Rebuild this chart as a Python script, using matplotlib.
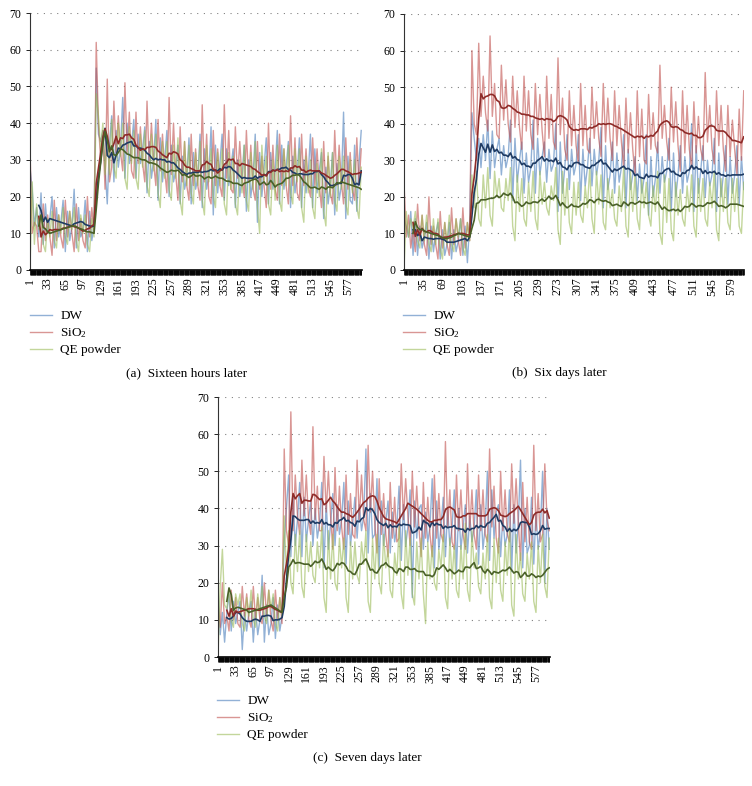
import numpy as np
import pandas as pd
import matplotlib
matplotlib.use('Agg')
import matplotlib.pyplot as plt

# readings taken off the chart, one value per 4 samples (sample 1, 5, 9, ...)
STEP = 4
WINDOW = 5  # moving average over 5 stored values = 20 samples

# (a) sixteen hours later
a_dw = [28, 22, 12, 17, 9, 21, 7, 18, 10, 14, 20, 6, 17, 9, 13, 19, 5, 16, 8, 12,
        22, 6, 17, 9, 11, 19, 5, 16, 8, 12,
        55, 37, 35, 38, 28, 18, 34,
        42, 24, 38, 28, 33, 47, 25, 40, 29, 34, 41, 25, 37, 29, 33, 39, 21, 35, 25, 30,
        41, 19, 36, 24, 30, 38, 20, 34, 24, 27, 34, 18, 31, 22, 25, 36, 18, 32, 22, 25,
        37, 17, 33, 22, 26, 39, 15, 34, 21, 29, 37, 19, 33, 23, 28, 33, 17, 30, 20, 25,
        34, 16, 30, 20, 25, 37, 13, 32, 20, 28, 36, 18, 32, 22, 27, 38, 18, 34, 22, 28,
        35, 17, 31, 21, 26, 36, 17, 30, 21, 26, 37, 17, 33, 21, 27, 32, 14, 28, 18, 23,
        32, 15, 29, 19, 23, 43, 14, 31, 19, 18, 34, 16, 29, 38]
a_sio2 = [33, 10, 13, 12, 5, 5, 18, 8, 15, 9, 4, 19, 8, 15, 9, 6, 19, 9, 16, 10,
          5, 18, 8, 14, 8, 6, 20, 9, 17, 10,
          62, 40, 30, 38, 22, 52, 24,
          28, 46, 32, 42, 32, 27, 51, 32, 43, 27, 25, 43, 29, 39, 29, 24, 46, 29, 40, 29,
          23, 41, 27, 37, 27, 21, 47, 26, 40, 26, 19, 39, 24, 35, 23, 19, 37, 23, 33, 23,
          19, 45, 24, 37, 20, 18, 38, 23, 33, 23, 20, 45, 25, 38, 22, 21, 39, 25, 35, 25,
          20, 38, 24, 34, 22, 19, 35, 22, 31, 23, 17, 40, 22, 34, 22, 19, 37, 23, 33, 23,
          18, 42, 23, 36, 21, 19, 37, 23, 33, 23, 20, 36, 23, 33, 23, 17, 35, 21, 31, 21,
          18, 38, 23, 34, 24, 18, 36, 22, 32, 22, 19, 36, 23, 33]
a_qe = [0, 24, 7, 18, 11, 15, 7, 5, 14, 9, 16, 8, 6, 15, 10, 17, 9, 7, 16, 11,
        17, 8, 5, 15, 10, 15, 7, 5, 14, 9,
        48, 42, 33, 40, 26, 36, 26,
        41, 28, 25, 40, 31, 40, 25, 22, 39, 29, 38, 25, 22, 37, 28, 38, 23, 20, 37, 27,
        37, 21, 17, 35, 25, 35, 22, 19, 34, 25, 36, 19, 15, 35, 23, 34, 21, 18, 32, 23,
        35, 19, 15, 34, 24, 33, 20, 17, 32, 23, 33, 18, 15, 32, 22, 31, 18, 15, 30, 21,
        34, 19, 16, 32, 22, 35, 17, 10, 34, 24, 31, 18, 15, 30, 19, 34, 19, 16, 33, 23,
        34, 21, 18, 33, 24, 33, 17, 13, 31, 21, 30, 17, 14, 29, 20, 33, 16, 12, 32, 20,
        32, 19, 16, 31, 22, 31, 18, 15, 30, 21, 30, 17, 14, 28]

# (b) six days later
b_dw = [14, 12, 9, 16, 4, 14, 4, 12, 6, 9, 13, 3, 12, 5, 10, 13, 3, 11, 4, 7,
        13, 3, 11, 5, 8, 14, 4, 12, 2, 13,
        43, 36, 30, 36, 28, 37, 30,
        41, 25, 38, 28, 33, 36, 26, 34, 28, 31, 41, 19, 36, 24, 30, 35, 21, 32, 24, 28,
        41, 21, 36, 26, 31, 35, 24, 33, 27, 29, 40, 16, 35, 21, 28, 37, 22, 33, 26, 29,
        37, 19, 33, 23, 28, 36, 23, 33, 26, 30, 39, 17, 34, 22, 26, 35, 21, 32, 24, 28,
        37, 17, 33, 22, 26, 31, 19, 29, 21, 25, 37, 15, 31, 20, 25, 35, 21, 31, 24, 27,
        36, 16, 32, 20, 26, 34, 21, 31, 24, 27, 40, 16, 34, 21, 27, 34, 20, 30, 23, 26,
        36, 16, 32, 20, 26, 34, 18, 31, 21, 26, 34, 18, 31, 22]
b_sio2 = [24, 9, 15, 6, 11, 5, 18, 8, 15, 7, 4, 20, 7, 12, 7, 3, 16, 6, 13, 7,
          4, 17, 7, 14, 8, 4, 17, 6, 13, 8,
          60, 40, 37, 62, 42, 53, 43,
          38, 64, 42, 51, 37, 36, 56, 41, 52, 40, 35, 53, 39, 49, 39, 33, 53, 38, 49, 37,
          33, 51, 37, 48, 38, 31, 53, 36, 48, 35, 33, 58, 37, 47, 33, 30, 49, 34, 45, 34,
          29, 51, 34, 45, 33, 32, 50, 36, 46, 36, 31, 51, 35, 47, 36, 30, 49, 34, 45, 35,
          28, 47, 32, 43, 33, 26, 49, 31, 44, 30, 29, 48, 33, 43, 34, 32, 56, 36, 45, 35,
          30, 50, 35, 46, 34, 27, 49, 32, 45, 33, 28, 46, 32, 42, 33, 30, 54, 35, 45, 33,
          29, 49, 34, 45, 33, 27, 45, 31, 41, 33, 26, 44, 30, 49]
b_qe = [0, 16, 9, 14, 11, 16, 8, 6, 15, 8, 15, 7, 5, 14, 7, 14, 6, 3, 13, 7,
        15, 7, 5, 14, 9, 14, 6, 4, 13, 8,
        26, 17, 27, 14, 12, 26, 17,
        28, 15, 12, 27, 20, 25, 17, 16, 25, 19, 28, 12, 8, 26, 16, 25, 14, 12, 24, 16,
        27, 14, 11, 27, 18, 24, 17, 15, 23, 19, 28, 11, 7, 27, 15, 25, 13, 10, 24, 15,
        24, 15, 13, 23, 17, 28, 14, 10, 27, 18, 26, 13, 11, 25, 17, 22, 14, 12, 23, 16,
        28, 12, 9, 27, 16, 26, 14, 11, 25, 17, 24, 15, 12, 23, 16, 27, 10, 7, 26, 13,
        25, 11, 8, 24, 15, 22, 14, 12, 23, 16, 26, 12, 9, 25, 16, 25, 14, 12, 24, 17,
        27, 11, 8, 25, 16, 25, 13, 11, 25, 16, 25, 12, 10, 24]

# (c) seven days later
c_dw = [19, 6, 12, 4, 12, 17, 7, 15, 9, 12, 15, 2, 12, 7, 12, 15, 4, 13, 6, 10,
        22, 4, 14, 6, 9, 16, 5, 14, 7, 11,
        31, 40, 49, 27, 43, 30, 37,
        47, 27, 43, 31, 37, 42, 30, 40, 32, 36, 47, 24, 42, 29, 36, 44, 30, 41, 33, 37,
        47, 25, 42, 30, 36, 43, 32, 41, 34, 38, 56, 28, 44, 32, 33, 48, 24, 42, 30, 36,
        42, 28, 39, 31, 35, 46, 26, 41, 30, 35, 45, 16, 42, 32, 40, 41, 29, 39, 31, 35,
        48, 24, 42, 29, 35, 43, 27, 40, 30, 35, 45, 23, 40, 29, 35, 41, 28, 38, 31, 35,
        45, 25, 41, 29, 35, 50, 26, 45, 32, 39, 41, 27, 38, 30, 33, 45, 23, 41, 28, 36,
        53, 24, 40, 28, 30, 43, 25, 39, 29, 34, 50, 20, 40, 29]
c_sio2 = [15, 8, 20, 9, 11, 7, 18, 10, 16, 9, 8, 19, 11, 17, 10, 8, 19, 10, 16, 10,
          9, 20, 11, 18, 10, 7, 18, 10, 16, 9,
          56, 34, 30, 66, 34, 49, 38,
          33, 53, 38, 49, 37, 33, 62, 37, 46, 34, 34, 54, 39, 50, 38, 29, 51, 34, 46, 35,
          29, 49, 33, 44, 33, 32, 53, 37, 49, 37, 34, 57, 39, 50, 36, 28, 48, 33, 44, 33,
          27, 47, 32, 43, 31, 32, 52, 37, 48, 38, 30, 50, 35, 46, 35, 27, 47, 32, 43, 33,
          27, 49, 32, 44, 33, 31, 58, 35, 45, 31, 29, 49, 34, 45, 33, 29, 52, 34, 45, 33,
          29, 49, 34, 45, 33, 31, 56, 35, 46, 32, 28, 50, 34, 45, 33, 31, 52, 36, 48, 36,
          26, 47, 31, 43, 31, 29, 57, 34, 44, 31, 33, 52, 37, 34]
c_qe = [0, 19, 29, 14, 13, 18, 10, 8, 17, 14, 17, 9, 7, 16, 11, 18, 10, 8, 17, 12,
        19, 11, 9, 18, 13, 17, 9, 7, 16, 11,
        38, 22, 34, 20, 17, 33, 23,
        34, 19, 16, 33, 23, 31, 22, 20, 31, 24, 35, 16, 12, 34, 21, 33, 20, 18, 32, 24,
        32, 16, 12, 31, 21, 31, 22, 20, 31, 25, 34, 15, 12, 32, 21, 33, 20, 17, 33, 24,
        29, 18, 16, 28, 22, 35, 17, 13, 34, 22, 32, 17, 14, 31, 21, 32, 17, 9, 31, 21,
        30, 20, 18, 29, 24, 33, 16, 13, 32, 21, 30, 18, 16, 30, 21, 36, 18, 15, 34, 24,
        28, 19, 17, 28, 21, 33, 16, 13, 32, 20, 32, 18, 15, 31, 22, 35, 14, 11, 33, 21,
        28, 17, 15, 28, 21, 31, 15, 12, 30, 20, 33, 19, 16, 32]

labels = ['DW', 'SiO$_2$', 'QE powder']
raw_colors = ['#4a7ebb', '#c0504d', '#9bbb59']
trend_colors = ['#1f3b63', '#8e2b28', '#4a6128']

ticks_a = list(range(1, 600, 32))
ticks_b = list(range(1, 600, 34))
ticks_c = list(range(1, 600, 32))
captions = ['(a)  Sixteen hours later', '(b)  Six days later', '(c)  Seven days later']

plt.rcParams['font.family'] = 'Liberation Serif'
plt.rcParams['mathtext.fontset'] = 'custom'
plt.rcParams['mathtext.rm'] = 'Liberation Serif'
plt.rcParams['mathtext.it'] = 'Liberation Serif:italic'

W, H = 752, 786
fig = plt.figure(figsize=(W / 100, H / 100), dpi=100)


def px_axes(left, right, top, bottom):
    return fig.add_axes([left / W, 1 - bottom / H, (right - left) / W, (bottom - top) / H])


def draw_panel(ax, series, ticks):
    raw = []
    for s, c in zip(series, raw_colors):
        x = 1 + STEP * np.arange(len(s))
        ln, = ax.plot(x, s, color=c, lw=1.0, alpha=0.6)
        raw.append(ln)
    for s, c in zip(series, trend_colors):
        x = 1 + STEP * np.arange(len(s))
        ma = pd.Series(s, dtype=float).rolling(WINDOW).mean()
        ax.plot(x, ma, color=c, lw=1.2)
    ax.set_xlim(0.5, 601.5)
    ax.set_ylim(0, 70)
    ax.set_yticks(range(0, 71, 10))
    ax.set_xticks(ticks)
    ax.set_xticklabels([str(t) for t in ticks], rotation=90)
    ax.set_xticks(np.arange(1, 602), minor=True)
    ax.tick_params(axis='x', which='both', length=3.5, width=0.6, color='black',
                   labelsize=8.5, pad=2)
    ax.tick_params(axis='y', length=3, width=0.6, labelsize=8.5, pad=3)
    ax.yaxis.grid(True, linestyle=(0, (1, 5)), color='#808080', lw=0.8)
    ax.set_axisbelow(True)
    for sp in ['top', 'right']:
        ax.spines[sp].set_visible(False)
    ax.spines['left'].set_color('#333333')
    ax.spines['left'].set_linewidth(0.8)
    ax.spines['bottom'].set_linewidth(1.2)
    return raw


ax_a = px_axes(29.7, 361.5, 13, 270)
ax_b = px_axes(403.7, 744, 14, 270)
ax_c = px_axes(217.7, 549.5, 397, 657)

panels = [(ax_a, [a_dw, a_sio2, a_qe], ticks_a, (30, 310), (187, 373)),
          (ax_b, [b_dw, b_sio2, b_qe], ticks_b, (403, 310), (559, 373)),
          (ax_c, [c_dw, c_sio2, c_qe], ticks_c, (217, 695), (367, 758))]

for (ax, series, ticks, leg_xy, cap_xy), cap in zip(panels, captions):
    raw = draw_panel(ax, series, ticks)
    ax.legend(raw, labels, loc='upper left', bbox_to_anchor=(leg_xy[0] / W, 1 - leg_xy[1] / H),
              bbox_transform=fig.transFigure, frameon=False, fontsize=9.5,
              handlelength=1.7, handletextpad=0.6, labelspacing=0.3,
              borderpad=0, borderaxespad=0)
    fig.text(cap_xy[0] / W, 1 - cap_xy[1] / H, cap, ha='center', va='center', fontsize=9.5)

fig.savefig('out.png', dpi=100)
